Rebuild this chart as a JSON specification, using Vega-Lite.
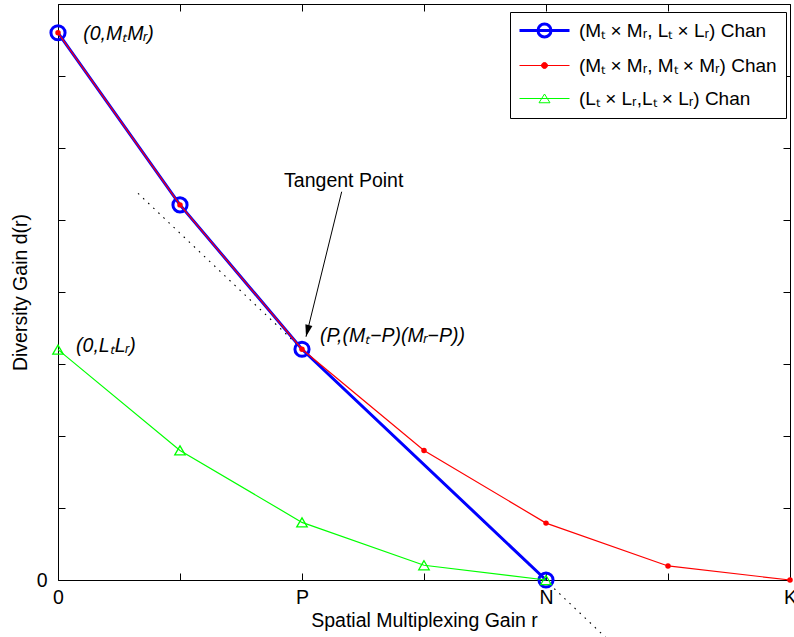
{
  "$schema": "https://vega.github.io/schema/vega-lite/v6.json",
  "width": 732,
  "height": 576,
  "autosize": {"type": "none"},
  "padding": {"left": 58, "top": 4, "right": 4, "bottom": 57},
  "background": "white",
  "config": {
    "view": {"stroke": null},
    "font": "Liberation Sans",
    "axis": {
      "domainColor": "#000000", "domainWidth": 1, "tickColor": "#000000", "tickWidth": 1,
      "tickSize": -7, "grid": false, "labelFont": "Liberation Sans", "labelFontSize": 19.5,
      "labelColor": "#000000", "titleFont": "Liberation Sans", "titleFontSize": 19.5,
      "titleFontWeight": "normal", "titleColor": "#000000", "labelFlush": false, "labelOverlap": false
    }
  },
  "datasets": {
    "curves": [
      {"s": "a", "r": 0, "d": 7.6}, {"s": "a", "r": 1, "d": 5.21}, {"s": "a", "r": 2, "d": 3.205}, {"s": "a", "r": 4, "d": 0},
      {"s": "b", "r": 0, "d": 7.6}, {"s": "b", "r": 1, "d": 5.21}, {"s": "b", "r": 2, "d": 3.205}, {"s": "b", "r": 3, "d": 1.8},
      {"s": "b", "r": 4, "d": 0.79}, {"s": "b", "r": 5, "d": 0.195}, {"s": "b", "r": 6, "d": 0},
      {"s": "c", "r": 0, "d": 3.2}, {"s": "c", "r": 1, "d": 1.8}, {"s": "c", "r": 2, "d": 0.8}, {"s": "c", "r": 3, "d": 0.205}, {"s": "c", "r": 4, "d": 0}
    ],
    "tangent": [{"r": 0.656, "d": 5.37}, {"r": 4.49, "d": -0.8}],
    "arrow": [{"r": 2.3254, "d": 5.393, "r2": 2.0328, "d2": 3.379}],
    "notes": [
      {"r": 0.207, "d": 7.5, "t": "(0,MₜMᵣ)"},
      {"r": 0.148, "d": 3.17, "t": "(0,LₜLᵣ)"},
      {"r": 2.148, "d": 3.31, "t": "(P,(Mₜ−P)(Mᵣ−P))"}
    ],
    "tp": [{"r": 2.342, "d": 5.463, "t": "Tangent Point"}]
  },
  "resolve": {"axis": {"x": "independent", "y": "independent"}},
  "layer": [
    {
      "data": {"name": "tangent"},
      "mark": {"type": "line", "color": "#000000", "strokeWidth": 1.1, "strokeDash": [1.6, 5.4], "clip": false},
      "encoding": {
        "x": {"field": "r", "type": "quantitative", "scale": {"domain": [0, 6], "nice": false, "zero": false},
          "axis": {"orient": "bottom", "values": [0, 1, 2, 3, 4, 5, 6],
            "labelExpr": "datum.value==0?'0':datum.value==2?'P':datum.value==4?'N':datum.value==6?'K':''",
            "labelBaseline": "alphabetic", "labelPadding": 30,
            "title": "Spatial Multiplexing Gain r", "titleBaseline": "alphabetic", "titleY": 46.7, "titleX": 366}},
        "y": {"field": "d", "type": "quantitative", "scale": {"domain": [0, 8], "nice": false, "zero": false},
          "axis": {"orient": "left", "values": [0, 1, 2, 3, 4, 5, 6, 7, 8],
            "labelExpr": "datum.value==0?'0':''", "labelPadding": 18, "labelBaseline": "middle",
            "title": "Diversity Gain d(r)", "titleAngle": -90, "titleBaseline": "alphabetic", "titleX": -31.3, "titleY": 288}}
      }
    },
    {
      "data": {"name": "curves"},
      "transform": [{"filter": "datum.s=='a'"}],
      "mark": {"type": "line", "strokeWidth": 3},
      "encoding": {
        "x": {"field": "r", "type": "quantitative", "axis": {"orient": "top", "values": [0, 1, 2, 3, 4, 5, 6], "labels": false, "title": null}},
        "y": {"field": "d", "type": "quantitative", "axis": {"orient": "right", "values": [0, 1, 2, 3, 4, 5, 6, 7, 8], "labels": false, "title": null}},
        "color": {"field": "s", "type": "nominal",
          "scale": {"domain": ["a", "b", "c"], "range": ["#0000ff", "#ff0000", "#00ff00"]},
          "legend": {
            "orient": "none", "legendX": 452, "legendY": 8, "title": null,
            "strokeColor": "#000000", "fillColor": "#ffffff", "padding": 9,
            "symbolSize": 2500, "symbolOffset": 16, "labelFont": "Liberation Sans", "labelFontSize": 19, "labelColor": "#000000",
            "labelOffset": 25, "rowPadding": 13, "labelLimit": 400,
            "labelExpr": "datum.value=='a' ? '(Mₜ × Mᵣ, Lₜ × Lᵣ) Chan' : datum.value=='b' ? '(Mₜ × Mᵣ, Mₜ × Mᵣ) Chan' : '(Lₜ × Lᵣ,Lₜ × Lᵣ) Chan'",
            "encode": {"symbols": {"update": {
              "shape": {"signal": "datum.index==0 ? 'M-1,0L1,0M-0.26,0A0.26,0.26,0,1,1,0.26,0A0.26,0.26,0,1,1,-0.26,0' : datum.index==1 ? 'M-1,0L1,0M-0.12,0A0.12,0.12,0,1,1,0.12,0A0.12,0.12,0,1,1,-0.12,0' : 'M-1,0L1,0M0,-0.18L-0.22,0.17L0.22,0.17Z'"},
              "fill": {"signal": "datum.index==1 ? '#ff0000' : 'transparent'"},
              "stroke": {"signal": "datum.index==0 ? '#0000ff' : datum.index==1 ? '#ff0000' : '#00ff00'"},
              "strokeWidth": {"signal": "datum.index==0 ? 3 : 1"},
              "opacity": {"value": 1}
            }}}
          }}
      }
    },
    {
      "data": {"name": "curves"},
      "transform": [{"filter": "datum.s=='a'"}],
      "mark": {"type": "point", "shape": "circle", "size": 200, "strokeWidth": 3, "filled": false, "color": "#0000ff", "opacity": 1},
      "encoding": {
        "x": {"field": "r", "type": "quantitative", "axis": null},
        "y": {"field": "d", "type": "quantitative", "axis": null}
      }
    },
    {
      "data": {"name": "curves"},
      "transform": [{"filter": "datum.s=='b'"}],
      "mark": {"type": "line", "strokeWidth": 1.2, "clip": false},
      "encoding": {
        "x": {"field": "r", "type": "quantitative", "axis": null},
        "y": {"field": "d", "type": "quantitative", "axis": null},
        "color": {"field": "s", "type": "nominal"}
      }
    },
    {
      "data": {"name": "curves"},
      "transform": [{"filter": "datum.s=='b'"}],
      "mark": {"type": "point", "shape": "circle", "size": 30, "filled": true, "color": "#ff0000", "opacity": 1},
      "encoding": {
        "x": {"field": "r", "type": "quantitative", "axis": null},
        "y": {"field": "d", "type": "quantitative", "axis": null}
      }
    },
    {
      "data": {"name": "curves"},
      "transform": [{"filter": "datum.s=='c'"}],
      "mark": {"type": "line", "strokeWidth": 1.2},
      "encoding": {
        "x": {"field": "r", "type": "quantitative", "axis": null},
        "y": {"field": "d", "type": "quantitative", "axis": null},
        "color": {"field": "s", "type": "nominal"}
      }
    },
    {
      "data": {"name": "curves"},
      "transform": [{"filter": "datum.s=='c'"}],
      "mark": {"type": "point", "shape": "triangle-up", "size": 110, "strokeWidth": 1.3, "filled": false, "color": "#00ff00", "opacity": 1},
      "encoding": {
        "x": {"field": "r", "type": "quantitative", "axis": null},
        "y": {"field": "d", "type": "quantitative", "axis": null}
      }
    },
    {
      "data": {"name": "notes"},
      "mark": {"type": "text", "align": "left", "baseline": "alphabetic", "font": "Liberation Sans", "fontSize": 19.5, "fontStyle": "italic", "color": "#000000"},
      "encoding": {
        "x": {"field": "r", "type": "quantitative", "axis": null},
        "y": {"field": "d", "type": "quantitative", "axis": null},
        "text": {"field": "t"}
      }
    },
    {
      "data": {"name": "tp"},
      "mark": {"type": "text", "align": "center", "baseline": "alphabetic", "font": "Liberation Sans", "fontSize": 19.5, "color": "#000000"},
      "encoding": {
        "x": {"field": "r", "type": "quantitative", "axis": null},
        "y": {"field": "d", "type": "quantitative", "axis": null},
        "text": {"field": "t"}
      }
    },
    {
      "data": {"name": "arrow"},
      "mark": {"type": "rule", "color": "#000000", "strokeWidth": 1},
      "encoding": {
        "x": {"field": "r", "type": "quantitative", "axis": null},
        "y": {"field": "d", "type": "quantitative", "axis": null},
        "x2": {"field": "r2"},
        "y2": {"field": "d2"}
      }
    },
    {
      "data": {"name": "arrow"},
      "mark": {"type": "point", "shape": "M0,0L-0.3,1L0.3,1Z", "size": 576, "angle": 193.83, "filled": true, "color": "#000000", "opacity": 1, "strokeWidth": 0},
      "encoding": {
        "x": {"field": "r2", "type": "quantitative", "axis": null},
        "y": {"field": "d2", "type": "quantitative", "axis": null}
      }
    }
  ]
}
